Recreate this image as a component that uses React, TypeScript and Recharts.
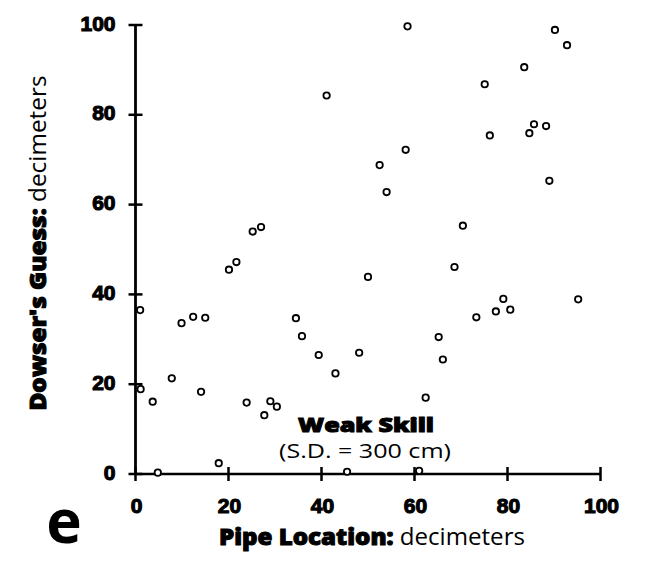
import React from "react";
import { ScatterChart, Scatter, XAxis, YAxis } from "recharts";

const pipeLocation = [
  1.0, 1.1, 3.7, 4.8, 7.8, 9.9, 12.4, 15.0, 14.1, 17.9,
  20.1, 21.7, 23.9, 25.2, 27.0, 27.7, 29.0, 30.4, 34.5, 35.8,
  39.4, 41.1, 43.0, 45.5, 48.1, 50.0, 52.5, 54.0, 58.5, 58.1,
  61.0, 62.4, 65.2, 66.1, 68.6, 70.4, 73.3, 75.1, 76.2, 77.5,
  79.1, 80.6, 83.6, 84.7, 85.7, 88.3, 89.0, 90.2, 92.8, 95.2,
];
const dowserGuess = [
  36.5, 18.9, 16.1, 0.3, 21.3, 33.6, 35.0, 34.8, 18.3, 2.4,
  45.5, 47.2, 15.9, 54.0, 55.0, 13.1, 16.2, 15.0, 34.7, 30.7,
  26.5, 84.3, 22.4, 0.5, 27.0, 43.9, 68.8, 62.8, 99.7, 72.2,
  0.7, 17.0, 30.5, 25.5, 46.1, 55.3, 34.9, 86.8, 75.4, 36.2,
  39.0, 36.6, 90.6, 75.9, 77.9, 77.5, 65.3, 98.9, 95.5, 38.9,
];
const xTicks = [0, 20, 40, 60, 80, 100];
const yTicks = [0, 20, 40, 60, 80, 100];
const panelLetter = "e";
const titleLine1 = "Weak Skill";
const titleLine2 = "(S.D. = 300 cm)";

const data = pipeLocation.map((x, i) => ({ x, y: dowserGuess[i] }));

const W = 652;
const H = 562;
const PLOT_LEFT = 135.5;
const PLOT_BOTTOM = 474;
const TICK_FONT = "'Liberation Sans', Arial, sans-serif";
const TITLE_FONT = "'Open Sans', 'DejaVu Sans', sans-serif";

const YTick = (props: any) => {
  const { y, payload } = props;
  return (
    <g>
      <line x1={PLOT_LEFT - 7} x2={PLOT_LEFT + 7} y1={y} y2={y} stroke="#000" strokeWidth={2.5} />
      <text
        x={PLOT_LEFT - 20}
        y={y - 2}
        textAnchor="end"
        dominantBaseline="central"
        fontFamily={TICK_FONT}
        fontWeight={900}
        fontSize={21}
        fill="#000"
        stroke="#000"
        strokeWidth={1.1}
      >
        {payload.value}
      </text>
    </g>
  );
};

const XTick = (props: any) => {
  const { x, payload } = props;
  return (
    <g>
      <line x1={x} x2={x} y1={PLOT_BOTTOM - 7} y2={PLOT_BOTTOM + 7} stroke="#000" strokeWidth={2.5} />
      <text
        x={x + 1}
        y={PLOT_BOTTOM + 31}
        textAnchor="middle"
        dominantBaseline="central"
        fontFamily={TICK_FONT}
        fontWeight={900}
        fontSize={21}
        fill="#000"
        stroke="#000"
        strokeWidth={1.1}
      >
        {payload.value}
      </text>
    </g>
  );
};

const OpenCircle = (props: any) => {
  const { cx, cy } = props;
  return <circle cx={cx} cy={cy} r={3.2} fill="#fff" stroke="#000" strokeWidth={1.8} />;
};

export default function App() {
  return (
    <div style={{ position: "absolute", left: 0, top: 0, width: W, height: H, background: "#fff" }}>
      <ScatterChart
        width={W}
        height={H}
        margin={{ top: 25, right: 51.5, bottom: 58, left: 0 }}
      >
        <XAxis
          type="number"
          dataKey="x"
          domain={[0, 100]}
          ticks={xTicks}
          height={30}
          axisLine={{ stroke: "#000", strokeWidth: 2.5 }}
          tickLine={false}
          tick={<XTick />}
          interval={0}
        />
        <YAxis
          type="number"
          dataKey="y"
          domain={[0, 100]}
          ticks={yTicks}
          width={PLOT_LEFT}
          axisLine={{ stroke: "#000", strokeWidth: 2.8 }}
          tickLine={false}
          tick={<YTick />}
          interval={0}
        />
        <Scatter data={data} shape={<OpenCircle />} isAnimationActive={false} />
      </ScatterChart>
      <svg
        width={W}
        height={H}
        style={{ position: "absolute", left: 0, top: 0, pointerEvents: "none" }}
      >
        <text
          x={366}
          y={431.5}
          textAnchor="middle"
          fontFamily={TITLE_FONT}
          fontWeight={800}
          fontSize={20}
          fill="#000"
          stroke="#000"
          strokeWidth={1}
          textLength={136}
          lengthAdjust="spacingAndGlyphs"
        >
          {titleLine1}
        </text>
        <text
          x={365}
          y={458}
          textAnchor="middle"
          fontFamily={TITLE_FONT}
          fontSize={20}
          fill="#000"
          textLength={172}
          lengthAdjust="spacingAndGlyphs"
        >
          {titleLine2}
        </text>
        <text
          x={372}
          y={545}
          textAnchor="middle"
          fontFamily={TITLE_FONT}
          fontSize={23}
          fill="#000"
          textLength={306}
          lengthAdjust="spacingAndGlyphs"
        >
          <tspan fontWeight={800} stroke="#000" strokeWidth={1}>Pipe Location:</tspan>
          <tspan> decimeters</tspan>
        </text>
        <text
          transform="translate(46, 243) rotate(-90)"
          textAnchor="middle"
          fontFamily={TITLE_FONT}
          fontSize={23}
          fill="#000"
          textLength={335}
          lengthAdjust="spacingAndGlyphs"
        >
          <tspan fontWeight={800} stroke="#000" strokeWidth={1}>Dowser's Guess:</tspan>
          <tspan> decimeters</tspan>
        </text>
        <text x={64} y={543} textAnchor="middle" fontFamily={TITLE_FONT} fontWeight={700} fontSize={60} fill="#000">
          {panelLetter}
        </text>
      </svg>
    </div>
  );
}
